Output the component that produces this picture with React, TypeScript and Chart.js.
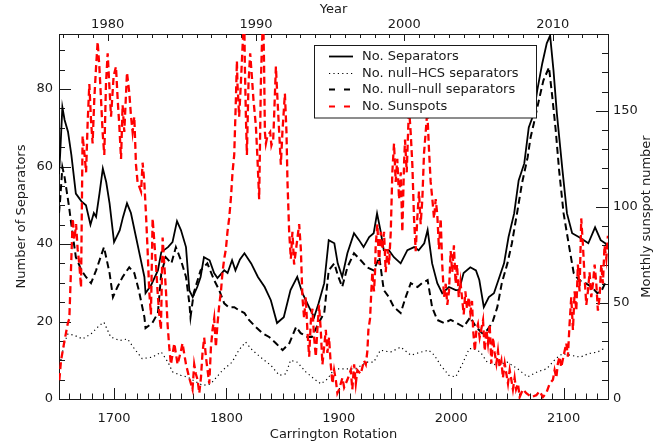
import React, { useEffect, useRef } from "react";
import { Chart, registerables } from "chart.js";

Chart.register(...registerables);

// ---------- axes ----------
const CR_MIN = 1651;
const CR_MAX = 2139.5;
const YEAR_MIN = 1976.72;
const YEAR_MAX = 2013.73;
const SEP_MAX = 94.2;
const SUN_MAX = 190;

const CR_TICKS = [1700, 1800, 1900, 2000, 2100];
const YEAR_TICKS = [1980, 1990, 2000, 2010];
const SEP_TICKS = [0, 20, 40, 60, 80];
const SUN_TICKS = [0, 50, 100, 150];

// ---------- series ----------
const SEP_CR = [1651, 1652, 1654, 1656, 1659, 1662, 1666, 1671, 1675, 1679, 1682, 1684, 1687, 1690, 1693, 1696, 1700, 1705, 1708, 1711.5, 1715, 1719.5, 1723, 1727, 1728, 1733, 1739, 1742, 1748, 1752, 1756, 1759.5, 1764, 1767, 1770, 1774, 1777, 1780, 1785, 1789, 1792, 1798, 1801, 1805, 1808, 1812, 1816, 1822, 1828, 1834, 1839.5, 1845, 1851, 1857, 1863, 1867.6, 1873.5, 1878, 1882, 1887, 1891, 1896, 1899, 1903, 1907.6, 1913.5, 1918, 1922, 1927, 1931, 1934, 1937, 1940, 1944.5, 1949, 1955, 1961, 1967, 1971, 1976, 1979, 1983, 1987.6, 1992, 1998, 2004, 2007, 2011, 2017, 2022, 2025, 2029, 2033.5, 2038, 2042, 2047, 2051, 2056, 2060, 2065, 2069, 2073.5, 2076.5, 2081, 2085, 2088, 2091, 2094, 2099, 2103, 2107.6, 2113.5, 2118, 2122, 2128, 2133, 2137, 2139.5];
const SEP_VALUES = [58, 63, 75.3, 72, 69, 63, 53, 51, 50, 45, 48, 47, 53, 59.5, 56, 50.5, 40.5, 43.5, 47, 50.5, 48, 41.8, 37, 31.5, 27.3, 29.4, 33.2, 37.9, 39.2, 40.5, 45.9, 43.6, 39.2, 28, 26.3, 28.9, 31.5, 36.6, 35.8, 32.5, 31.2, 33.2, 32.5, 35.8, 33.2, 36, 37.6, 35, 31.5, 28.9, 25.5, 19.6, 21.1, 28.1, 31.5, 27.3, 23.7, 21.1, 24.7, 29.9, 41, 40.2, 35, 31.5, 37.6, 42.8, 41, 39.2, 41.8, 42.8, 47.9, 43.6, 38.4, 38.4, 36.6, 35, 38.4, 39.2, 38.4, 40.2, 43.6, 35, 29.9, 27.3, 28.9, 28.1, 28.1, 32.5, 34, 33.2, 30.7, 23.7, 26.3, 27.3, 30.7, 35, 41.8, 47.9, 56.4, 60.8, 70.1, 73.7, 79.6, 86.6, 91.8, 93.8, 84.8, 73.7, 59, 47.9, 42.8, 41.8, 41, 40.2, 44.3, 41, 40.2, 39.5];

const HCS_CR = [1651, 1656, 1659, 1665, 1672, 1679.5, 1687, 1691, 1697, 1705, 1712, 1718, 1725, 1734, 1742, 1748, 1752, 1759.5, 1765, 1773, 1779, 1786, 1796.5, 1805, 1811, 1817, 1823, 1832, 1839.5, 1847, 1853, 1857, 1863, 1870.6, 1878, 1884, 1890, 1896, 1905, 1915, 1925, 1931, 1937, 1946, 1955, 1964, 1973, 1980, 1985, 1990.6, 1998, 2004, 2010, 2016, 2020, 2026, 2032, 2041, 2050, 2059, 2068, 2076.5, 2085, 2093, 2099, 2106, 2115, 2122, 2130, 2136];
const HCS_VALUES = [7.8, 14.7, 16.8, 16.4, 15.5, 16.8, 19, 19.8, 16, 15.1, 15.5, 13, 10.4, 10.8, 12.1, 9.5, 7, 6.1, 5.7, 4.4, 3.5, 3.9, 7.4, 9.5, 12.6, 14.7, 12.6, 10.4, 8.7, 6.1, 6.5, 10, 9.5, 7, 5.2, 3.9, 5.2, 7.8, 7.8, 7.8, 9.5, 9.5, 12.6, 12.1, 13.4, 11.3, 12.1, 12.6, 11.3, 8.7, 6.1, 5.7, 9.1, 13, 13, 12.1, 9.5, 8.7, 9.5, 7.8, 5.7, 7, 7.8, 10.4, 11.7, 11.3, 10.8, 11.7, 12.1, 13];

const NN_CR = [1651, 1652, 1654, 1656, 1660, 1663, 1666, 1671, 1675, 1679.5, 1684, 1688, 1691, 1696, 1699, 1703, 1707.6, 1713.5, 1718, 1722, 1727, 1728, 1734, 1739, 1742, 1746, 1751, 1755, 1759.5, 1764, 1767, 1768, 1771, 1777, 1783, 1789, 1793.5, 1798, 1802, 1807, 1811, 1816, 1820, 1826, 1832, 1838, 1844, 1850, 1856, 1862, 1866, 1872, 1876, 1882, 1887, 1891, 1896, 1899, 1903, 1907.6, 1913.5, 1919.5, 1925, 1931, 1936, 1940, 1944.5, 1949, 1955, 1959.5, 1964, 1970, 1974, 1979, 1983, 1987.6, 1993.5, 1999.5, 2005, 2011, 2017, 2022, 2027.6, 2032, 2036.5, 2041, 2045, 2050, 2054, 2059, 2063, 2068, 2070.6, 2073.5, 2078, 2082, 2087, 2090, 2093, 2096, 2100, 2105, 2109, 2113.5, 2119.5, 2125, 2130, 2134, 2137, 2139.5];
const NN_VALUES = [48, 51.3, 59.8, 57.2, 49.5, 42.8, 36.6, 33.2, 31.5, 29.9, 33.2, 36.6, 39.2, 32.5, 26.3, 28.9, 31.5, 34, 32.5, 28.1, 21.1, 18.3, 19.6, 22.2, 32.5, 36.6, 35, 39.2, 35.8, 31.5, 24.7, 21.1, 27.5, 33.2, 35, 30.7, 28.1, 24.7, 23.7, 23.7, 22.9, 22.2, 20.4, 18.6, 17, 16, 14.4, 12.6, 14.4, 18.6, 17, 16, 16, 19.6, 22.2, 33.2, 35, 32, 28.9, 34, 37.6, 35.8, 34, 33.2, 36.6, 28.1, 26.3, 23.7, 22.2, 26.3, 29.9, 28.9, 29.9, 30.7, 23.7, 20.4, 19.6, 20.4, 19.6, 18.6, 21.1, 18.6, 17, 17.8, 19.6, 23.7, 29.9, 35, 40.2, 48.7, 55.7, 62.4, 67.5, 71.1, 77.1, 82.2, 85.6, 77.8, 69.3, 59, 47.9, 39.2, 32.5, 30.7, 29.9, 28.9, 27.3, 28.1, 29.9, 30];

const SUN_CR = [1651.3, 1652.8, 1655.8, 1658.7, 1660.2, 1663.2, 1664.7, 1666.2, 1667.6, 1669.1, 1670.6, 1672, 1673.6, 1675.1, 1676.5, 1678, 1679.5, 1680.9, 1682.4, 1684, 1685.4, 1686.9, 1688.4, 1689.8, 1691.3, 1692.8, 1694.3, 1695.8, 1697.3, 1699.6, 1701.7, 1703.2, 1704.7, 1706.2, 1707.6, 1709.1, 1711.5, 1713.6, 1715.1, 1716.5, 1718, 1719.5, 1720.9, 1724, 1725.4, 1726.9, 1728.4, 1729.8, 1731.3, 1732.8, 1734.3, 1735.8, 1737.3, 1738.7, 1740.2, 1741.7, 1743.2, 1744.7, 1746.2, 1747.6, 1749.1, 1750.6, 1753.6, 1756.5, 1759.5, 1760.9, 1764, 1766.9, 1769.8, 1771.3, 1772.8, 1774.3, 1775.8, 1777.3, 1778.7, 1780.2, 1781.7, 1783.2, 1784.7, 1786.2, 1787.6, 1789.1, 1790.6, 1792, 1793.6, 1795.1, 1796.5, 1798, 1799.5, 1800.9, 1802.4, 1803.9, 1805.4, 1806.9, 1808.4, 1809.3, 1809.8, 1811.3, 1812.8, 1814.3, 1815.8, 1816.4, 1817.3, 1818.2, 1819.6, 1821.1, 1822.6, 1824, 1826.2, 1827.6, 1829.1, 1830, 1830.6, 1831.5, 1832.7, 1833.5, 1834.2, 1835.1, 1836.5, 1838.9, 1840, 1841.6, 1842.4, 1844, 1845.4, 1846.9, 1848.4, 1849.8, 1850.7, 1852, 1853.4, 1854.3, 1855.8, 1857.3, 1858.7, 1860.2, 1863.2, 1864.7, 1866.2, 1867.6, 1869.1, 1870.6, 1872, 1873.6, 1875.1, 1876.5, 1878, 1879.5, 1880.9, 1882.4, 1883.9, 1885.4, 1886.9, 1888.4, 1889.8, 1891.3, 1892.8, 1894.3, 1895.8, 1897.3, 1898.7, 1900.2, 1903.2, 1904.7, 1907.6, 1910.6, 1912, 1913.6, 1915.1, 1916.5, 1919.5, 1922.4, 1924, 1925.4, 1926.3, 1927.8, 1928.9, 1929.8, 1931.3, 1932.2, 1932.8, 1934.3, 1935.8, 1937.3, 1938.7, 1940.2, 1941.7, 1943.2, 1944.7, 1946.2, 1947.6, 1949.1, 1950.6, 1952, 1953.6, 1955.1, 1956.5, 1958, 1958.9, 1960.4, 1962.4, 1963.9, 1965.4, 1966.9, 1968.4, 1969.8, 1971.3, 1972.8, 1974.3, 1975.8, 1977.3, 1978.7, 1980.2, 1981.7, 1983.2, 1984.7, 1986.2, 1987.6, 1989.1, 1990.6, 1992, 1993.6, 1995.1, 1996.5, 1998, 1999.5, 2000.9, 2002.4, 2003.9, 2005.2, 2006.7, 2008.2, 2011.1, 2012.6, 2014, 2015.6, 2017, 2018.5, 2019.5, 2021, 2022.4, 2023.8, 2025.3, 2028.3, 2029.8, 2031.3, 2032.7, 2034.2, 2035.7, 2037.2, 2038.7, 2040.2, 2041.6, 2043.1, 2044.6, 2046, 2047.6, 2049.1, 2050.5, 2052, 2053.5, 2054.9, 2056.4, 2057.7, 2059.4, 2060.9, 2063.8, 2066.8, 2071.3, 2075.7, 2078.7, 2081.6, 2084.6, 2087.6, 2090.5, 2092, 2093.5, 2094.9, 2096.4, 2097.9, 2100.9, 2102.4, 2103.8, 2105.3, 2106.8, 2108.3, 2109.8, 2111.3, 2112.7, 2114.2, 2115.7, 2117.2, 2118.7, 2120.2, 2121.6, 2123.1, 2124.6, 2126.1, 2127.6, 2129.1, 2130.5, 2132, 2133.5, 2135, 2136.4, 2138, 2139.4];
const SUN_VALUES = [9.8, 20, 30, 39, 42, 94, 83, 91, 78, 70, 58, 137, 128, 118, 144, 164, 145, 133, 156, 173, 186, 173, 156, 139, 127, 164, 180, 163, 147, 168, 173, 156, 142, 125, 153, 139, 170, 159, 147, 139, 147, 122, 113, 108, 123, 113, 96, 78, 56, 44, 94, 82, 70, 56, 44, 36, 84, 70, 56, 39, 27, 18, 29, 18, 25, 29, 18, 11, 5, 18, 13, 10, 3, 11, 24, 32, 22, 15, 8, 27, 36, 42, 27, 39, 49, 56, 66, 73, 78, 87, 94, 104, 118, 127, 156, 176, 164, 147, 164, 183, 200, 173, 147, 127, 164, 180, 168, 156, 142, 125, 104, 139, 164, 183, 200, 173, 139, 133, 137, 139, 132, 135, 147, 173, 156, 139, 122, 139, 147, 159, 139, 113, 87, 73, 87, 70, 84, 91, 78, 53, 42, 53, 36, 22, 41, 47, 32, 22, 36, 49, 36, 18, 27, 36, 24, 32, 18, 8, 15, 10, 3, 5, 11, 6, 10, 15, 5, 18, 8, 15, 13, 20, 18, 25, 36, 42, 56, 66, 56, 66, 80, 91, 70, 87, 78, 87, 66, 78, 70, 87, 118, 133, 113, 125, 104, 118, 87, 122, 135, 118, 152, 139, 122, 94, 77, 94, 108, 91, 104, 128, 139, 150, 130, 113, 104, 94, 104, 96, 78, 94, 70, 53, 60, 49, 56, 77, 66, 80, 60, 70, 53, 61, 44, 56, 47, 53, 45, 51, 36, 25, 36, 39, 32, 41, 25, 36, 29, 39, 18.5, 32, 24, 18.5, 25, 16.5, 20, 11, 18.5, 13, 8, 15, 10, 5, 11, 5, 8, 1, 5, 3, 1, 2, 4, 1, 3, 8, 10, 15, 11, 18.5, 22, 16.5, 25, 29, 22, 39, 53, 36, 56, 46, 70, 56, 94, 80, 63, 49, 56, 66, 53, 60, 70, 60, 46, 53, 70, 60, 80, 73, 85];

const LABELS = ["No. Separators", "No. null\u2013HCS separators", "No. null\u2013null separators", "No. Sunspots"];

const FONT = "'DejaVu Sans', sans-serif";
const INK = "#1a1a1a";

const pts = (xs: number[], ys: number[]) => xs.map((x, i) => ({ x, y: ys[i] }));

// inward tick marks (IDL style)
const innerTicks = {
  id: "innerTicks",
  beforeDatasetsDraw(chart: any) {
    const { ctx, chartArea: a, scales } = chart;
    ctx.save();
    ctx.strokeStyle = INK;
    ctx.lineWidth = 1;
    const line = (x1: number, y1: number, x2: number, y2: number) => {
      ctx.beginPath();
      ctx.moveTo(x1, y1);
      ctx.lineTo(x2, y2);
      ctx.stroke();
    };
    const each = (scale: any, step: number, majorStep: number, fn: (p: number, major: boolean) => void) => {
      const k0 = Math.ceil(scale.min / step - 1e-9);
      const k1 = Math.floor(scale.max / step + 1e-9);
      for (let k = k0; k <= k1; k++) {
        const v = k * step;
        const major = Math.abs(v / majorStep - Math.round(v / majorStep)) < 1e-6;
        fn(Math.round(scale.getPixelForValue(v)) + 0.5, major);
      }
    };
    each(scales.x, 10, 100, (p, m) => { if (p > a.left + 1 && p < a.right - 1) line(p, a.bottom, p, a.bottom - (m ? 11 : 5.5)); });
    each(scales.x2, 1, 10, (p, m) => { if (p > a.left + 1 && p < a.right - 1) line(p, a.top, p, a.top + (m ? 7 : 4)); });
    each(scales.y, 5, 20, (p, m) => { if (p < a.bottom - 1 && p > a.top + 1) line(a.left, p, a.left + (m ? 12 : 6), p); });
    each(scales.y2, 10, 50, (p, m) => { if (p < a.bottom - 1 && p > a.top + 1) line(a.right, p, a.right - (m ? 12 : 6), p); });
    ctx.restore();
  },
};

// axis titles
const axisTitles = {
  id: "axisTitles",
  afterDraw(chart: any) {
    const { ctx, chartArea: a } = chart;
    const cx = (a.left + a.right) / 2;
    const cy = (a.top + a.bottom) / 2;
    ctx.save();
    ctx.fillStyle = INK;
    ctx.font = `13px ${FONT}`;
    ctx.textAlign = "center";
    ctx.textBaseline = "middle";
    ctx.fillText("Year", cx, 9.5);
    ctx.fillText("Carrington Rotation", cx, 434.5);
    ctx.save();
    ctx.translate(21.5, cy);
    ctx.rotate(-Math.PI / 2);
    ctx.fillText("Number of Separators", 0, 0);
    ctx.restore();
    ctx.save();
    ctx.translate(647, cy);
    ctx.rotate(-Math.PI / 2);
    ctx.fillText("Monthly sunspot number", 0, 0);
    ctx.restore();
    ctx.restore();
  },
};

// boxed legend inside the plot
const boxLegend = {
  id: "boxLegend",
  afterDraw(chart: any) {
    const { ctx } = chart;
    const ds = chart.data.datasets;
    ctx.save();
    ctx.fillStyle = "#ffffff";
    ctx.fillRect(314.5, 45.5, 222, 72.5);
    ctx.strokeStyle = INK;
    ctx.lineWidth = 1;
    ctx.setLineDash([]);
    ctx.strokeRect(314.5, 45.5, 222, 72.5);
    ds.forEach((d: any, i: number) => {
      const y = Math.round(56.3 + i * 16.5) + 0.5;
      ctx.strokeStyle = d.borderColor;
      ctx.lineWidth = Math.min(d.borderWidth, 1.8);
      const dash = d.borderDash || [];
      ctx.setLineDash(dash.length && dash[0] > 2 ? [dash[0] - 1, dash[0] + 2] : dash);
      ctx.beginPath();
      ctx.moveTo(329, y);
      ctx.lineTo(353, y);
      ctx.stroke();
      ctx.setLineDash([]);
      ctx.fillStyle = INK;
      ctx.font = `13px ${FONT}`;
      ctx.textAlign = "left";
      ctx.textBaseline = "middle";
      ctx.fillText(d.label, 362, y);
    });
    ctx.restore();
  },
};

const tickFont = { family: FONT, size: 13 };
const fixTicks = (arr: number[]) => (s: any) => {
  s.ticks = arr.map((value) => ({ value }));
};

export default function App() {
  const ref = useRef<HTMLCanvasElement | null>(null);

  useEffect(() => {
    document.body.style.margin = "0";
    const canvas = ref.current;
    if (!canvas) return;
    const chart = new Chart(canvas, {
      type: "line",
      data: {
        datasets: [
          {
            label: LABELS[0],
            data: pts(SEP_CR, SEP_VALUES),
            borderColor: "#000000",
            borderWidth: 1.8,
            borderDash: [],
            xAxisID: "x",
            yAxisID: "y",
            order: 1,
          },
          {
            label: LABELS[1],
            data: pts(HCS_CR, HCS_VALUES),
            borderColor: "#000000",
            borderWidth: 1.2,
            borderDash: [1.2, 3.2],
            xAxisID: "x",
            yAxisID: "y",
            order: 1,
          },
          {
            label: LABELS[2],
            data: pts(NN_CR, NN_VALUES),
            borderColor: "#000000",
            borderWidth: 2,
            borderDash: [7, 4],
            xAxisID: "x",
            yAxisID: "y",
            order: 1,
          },
          {
            label: LABELS[3],
            data: pts(SUN_CR, SUN_VALUES),
            borderColor: "#ff0000",
            borderWidth: 2.3,
            borderDash: [7, 4],
            xAxisID: "x",
            yAxisID: "y2",
            order: 0,
          },
        ] as any,
      },
      options: {
        responsive: false,
        animation: false,
        layout: { padding: 0 },
        elements: { point: { radius: 0 }, line: { tension: 0, fill: false } },
        plugins: { legend: { display: false }, tooltip: { enabled: false }, title: { display: false } },
        events: [],
        scales: {
          x: {
            type: "linear",
            axis: "x",
            position: "bottom",
            min: CR_MIN,
            max: CR_MAX,
            grid: { display: false, drawTicks: false },
            border: { display: true, color: INK, width: 1 },
            ticks: { font: tickFont, color: INK, padding: 12, autoSkip: false, maxRotation: 0, callback: (v: any) => String(v) },
            afterBuildTicks: fixTicks(CR_TICKS),
            afterFit: (s: any) => { s.height = 46; },
          },
          x2: {
            type: "linear",
            axis: "x",
            position: "top",
            min: YEAR_MIN,
            max: YEAR_MAX,
            grid: { display: false, drawTicks: false },
            border: { display: true, color: INK, width: 1 },
            ticks: { font: tickFont, color: INK, padding: 2, autoSkip: false, maxRotation: 0, callback: (v: any) => String(v) },
            afterBuildTicks: fixTicks(YEAR_TICKS),
            afterFit: (s: any) => { s.height = 34; },
          },
          y: {
            type: "linear",
            position: "left",
            min: 0,
            max: SEP_MAX,
            grid: { display: false, drawTicks: false },
            border: { display: true, color: INK, width: 1 },
            ticks: { font: tickFont, color: INK, padding: 6, autoSkip: false, callback: (v: any) => String(v) },
            afterBuildTicks: fixTicks(SEP_TICKS),
            afterFit: (s: any) => { s.width = 59; },
          },
          y2: {
            type: "linear",
            position: "right",
            min: 0,
            max: SUN_MAX,
            grid: { display: false, drawTicks: false },
            border: { display: true, color: INK, width: 1 },
            ticks: { font: tickFont, color: INK, padding: 5, autoSkip: false, callback: (v: any) => String(v) },
            afterBuildTicks: fixTicks(SUN_TICKS),
            afterFit: (s: any) => { s.width = 62; },
          },
        },
      } as any,
      plugins: [innerTicks, axisTitles, boxLegend],
    });
    return () => chart.destroy();
  }, []);

  return (
    <div style={{ position: "absolute", left: 0, top: 0, width: 670, height: 445, background: "#fff" }}>
      <canvas ref={ref} width={670} height={445} style={{ display: "block", width: 670, height: 445 }} />
    </div>
  );
}
